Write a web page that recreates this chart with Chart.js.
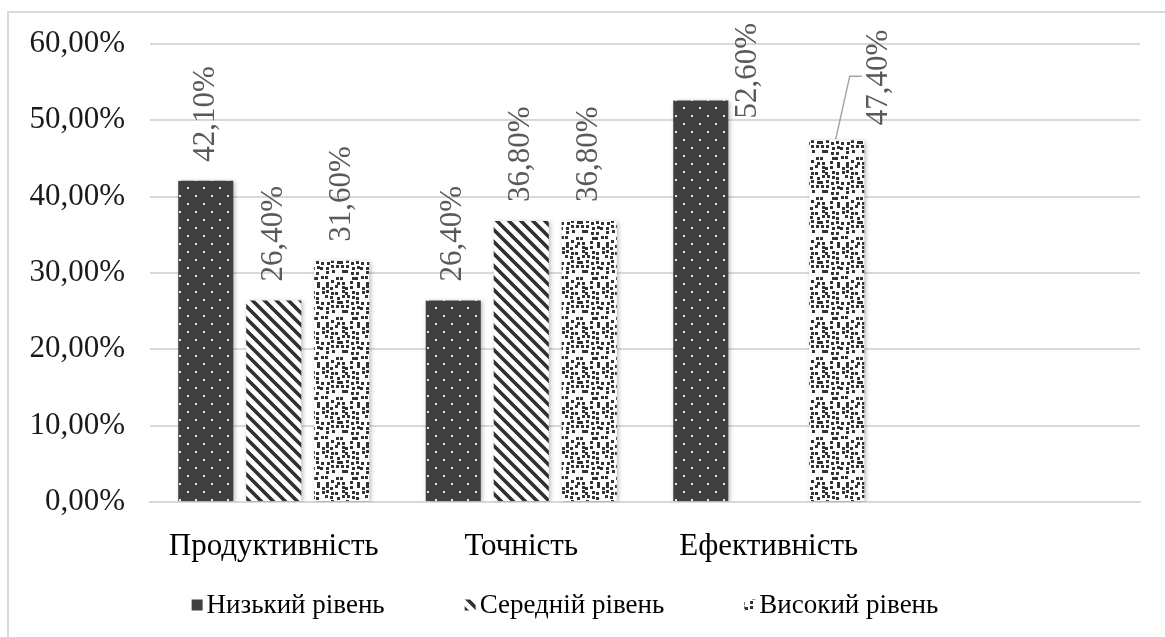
<!DOCTYPE html>
<html>
<head>
<meta charset="utf-8">
<script src="https://cdn.jsdelivr.net/npm/chart.js@4.4.1/dist/chart.umd.min.js"></script>
<style>
  html, body { margin: 0; padding: 0; background: #fff; }
  #wrap { width: 1165px; height: 637px; }
</style>
</head>
<body>
<div id="wrap"><canvas id="myBarChart"></canvas></div>
<script>
// data (percent)
var categories = ['Продуктивність', 'Точність', 'Ефективність', ''];
var seriesNames = ['Низький рівень', 'Середній рівень', 'Високий рівень'];
var lowLevel = [42.1, 26.4, 52.6, null];
var midLevel = [26.4, 36.8, null, null];
var highLevel = [31.6, 36.8, 47.4, null];
var yTicks = [0, 10, 20, 30, 40, 50, 60];

var FONT = '"Liberation Serif", "Times New Roman", serif';

// label placement tweaks, key = category-dataset (Excel moved two labels that didn't fit)
var labelMoves = {
    '2-0': { dx: 47, dy: 37, leader: false },
    '2-2': { dx: 42, dy: 4, leader: true }
};

function fmt(v) {
    return v.toFixed(2).replace('.', ',') + '%';
}

// --- fill patterns ---
function dotsPattern() {
    var c = document.createElement('canvas');
    c.width = 16; c.height = 16;
    var g = c.getContext('2d');
    g.fillStyle = '#404040';
    g.fillRect(0, 0, 16, 16);
    g.fillStyle = '#e8e8e8';
    g.fillRect(3, 3, 2, 2);
    g.fillRect(11, 11, 2, 2);
    return g.createPattern(c, 'repeat');
}

function stripePattern() {
    var c = document.createElement('canvas');
    c.width = 12; c.height = 12;
    var g = c.getContext('2d');
    g.fillStyle = '#ffffff';
    g.fillRect(0, 0, 12, 12);
    g.strokeStyle = '#303030';
    g.lineWidth = 3.6;
    g.beginPath();
    g.moveTo(-6, -6); g.lineTo(18, 18);
    g.moveTo(-6, 6); g.lineTo(6, 18);
    g.moveTo(6, -6); g.lineTo(18, 6);
    g.stroke();
    return g.createPattern(c, 'repeat');
}

// small scattered squares; fixed hash so the texture is the same every run
function confettiPattern() {
    var size = 40;
    var c = document.createElement('canvas');
    c.width = size; c.height = size;
    var g = c.getContext('2d');
    g.fillStyle = '#ffffff';
    g.fillRect(0, 0, size, size);
    g.fillStyle = '#333333';
    var s = 12345;
    function rnd() {
        s |= 0; s = s + 0x6D2B79F5 | 0;
        var t = Math.imul(s ^ s >>> 15, 1 | s);
        t = t + Math.imul(t ^ t >>> 7, 61 | t) ^ t;
        return ((t ^ t >>> 14) >>> 0) / 4294967296;
    }
    for (var y = 0; y < size; y += 5) {
        for (var x = 0; x < size; x += 5) {
            if (rnd() < 0.9) {
                var ox = Math.floor(rnd() * 3);
                var oy = Math.floor(rnd() * 3);
                var px = (x + ox) % size, py = (y + oy) % size;
                g.fillRect(px, py, 3, 3);
                // wrap squares that cross the tile edge
                if (px + 3 > size) g.fillRect(px - size, py, 3, 3);
                if (py + 3 > size) g.fillRect(px, py - size, 3, 3);
            }
        }
    }
    return g.createPattern(c, 'repeat');
}

var fills = [dotsPattern(), stripePattern(), confettiPattern()];

var borderPlugin = {
    id: 'outerBorder',
    beforeDraw: function (chart) {
        var ctx = chart.ctx;
        ctx.save();
        ctx.strokeStyle = '#d9d9d9';
        ctx.lineWidth = 2;
        ctx.strokeRect(8, 12, 2000, 2000);
        ctx.restore();
    }
};

var shadowPlugin = {
    id: 'barShadow',
    beforeDatasetsDraw: function (chart) {
        var ctx = chart.ctx;
        ctx.save();
        ctx.shadowColor = 'rgba(0,0,0,0.28)';
        ctx.shadowBlur = 4;
        ctx.shadowOffsetX = 1.5;
        ctx.shadowOffsetY = 1;
    },
    afterDatasetsDraw: function (chart) {
        chart.ctx.restore();
    }
};

var labelPlugin = {
    id: 'barLabels',
    afterDatasetsDraw: function (chart) {
        var ctx = chart.ctx;
        chart.data.datasets.forEach(function (ds, di) {
            var meta = chart.getDatasetMeta(di);
            meta.data.forEach(function (bar, i) {
                var v = ds.data[i];
                if (v === null || v === undefined) return;
                var mv = labelMoves[i + '-' + di] || { dx: 0, dy: 0 };
                var x = bar.x + mv.dx;
                var y = bar.y - 19 + mv.dy;
                if (mv.leader) {
                    ctx.save();
                    ctx.strokeStyle = '#a6a6a6';
                    ctx.lineWidth = 1.5;
                    ctx.beginPath();
                    ctx.moveTo(bar.x - 1, bar.y - 1);
                    ctx.lineTo(bar.x + 13, bar.y - 64);
                    ctx.lineTo(bar.x + 25, bar.y - 64);
                    ctx.stroke();
                    ctx.restore();
                }
                ctx.save();
                ctx.translate(x, y);
                ctx.rotate(-Math.PI / 2);
                ctx.font = '31px ' + FONT;
                ctx.fillStyle = '#595959';
                ctx.textAlign = 'left';
                ctx.textBaseline = 'middle';
                ctx.fillText(fmt(v), 0, 0);
                ctx.restore();
            });
        });
    }
};

var legendPlugin = {
    id: 'bottomLegend',
    afterDraw: function (chart) {
        var ctx = chart.ctx;
        ctx.save();
        ctx.font = '27px ' + FONT;
        ctx.textBaseline = 'middle';
        var box = 11, gap = 4, spacing = 80;
        var widths = chart.data.datasets.map(function (ds) {
            return box + gap + ctx.measureText(ds.label).width;
        });
        var total = widths.reduce(function (a, b) { return a + b; }, 0) + spacing * (widths.length - 1);
        var x = 565 - total / 2;
        var y = 605;
        chart.data.datasets.forEach(function (ds, di) {
            ctx.fillStyle = ds.backgroundColor;
            ctx.fillRect(x, y - box / 2, box, box);
            ctx.fillStyle = '#000000';
            ctx.fillText(ds.label, x + box + gap, y + 1);
            x += widths[di] + spacing;
        });
        ctx.restore();
    }
};

var ctx = document.getElementById('myBarChart').getContext('2d');
var myBarChart = new Chart(ctx, {
    type: 'bar',
    data: {
        labels: categories,
        datasets: [
            { label: seriesNames[0], data: lowLevel, backgroundColor: fills[0] },
            { label: seriesNames[1], data: midLevel, backgroundColor: fills[1] },
            { label: seriesNames[2], data: highLevel, backgroundColor: fills[2] }
        ]
    },
    options: {
        responsive: true,
        maintainAspectRatio: false,
        animation: false,
        devicePixelRatio: 1,
        categoryPercentage: 0.824,
        barPercentage: 0.81,
        layout: { padding: { left: 8, right: 25, top: 44, bottom: 60 } },
        plugins: {
            legend: { display: false },
            tooltip: { enabled: false }
        },
        scales: {
            x: {
                grid: { display: false, drawTicks: false },
                border: { color: '#d9d9d9', width: 2 },
                ticks: { color: '#000', font: { family: FONT, size: 31 }, padding: 26, maxRotation: 0 },
                afterFit: function (scale) { scale.height = 75; }
            },
            y: {
                min: 0,
                max: 60,
                afterBuildTicks: function (scale) {
                    scale.ticks = yTicks.map(function (v) { return { value: v }; });
                },
                grid: { color: '#d9d9d9', lineWidth: 2, drawTicks: false },
                border: { display: false },
                ticks: {
                    color: '#1a1a1a',
                    font: { family: FONT, size: 31 },
                    padding: 25,
                    callback: function (v) { return fmt(v); }
                },
                afterFit: function (scale) { scale.width = 142; }
            }
        }
    },
    plugins: [borderPlugin, shadowPlugin, labelPlugin, legendPlugin]
});
</script>
</body>
</html>
